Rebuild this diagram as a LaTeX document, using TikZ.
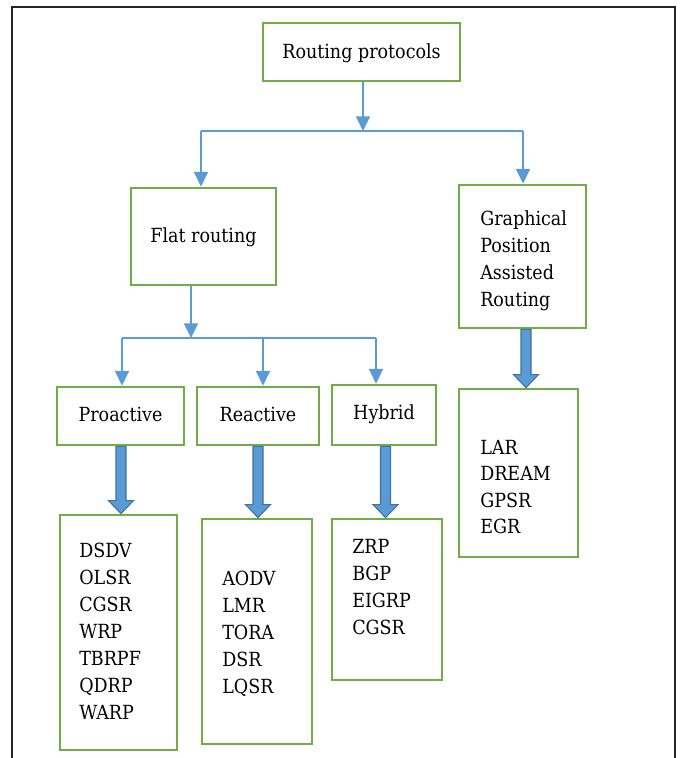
\documentclass[tikz,border=0pt]{standalone}
\usepackage{fontspec}
\setmainfont{DejaVu Serif Condensed}
\usetikzlibrary{fit,calc,arrows.meta}
\definecolor{boxgreen}{RGB}{112,173,71}
\definecolor{linkblue}{RGB}{91,155,213}
\definecolor{fatedge}{RGB}{65,113,156}
% thick block arrow: source node, target node, x position
\newcommand\fatlink[3]{%
  \path (#3,0 |- #1.south) coordinate (ft) (#3,0 |- #2.north) coordinate (fb);
  \path[fat] ($(ft)+(-5,0)$) -- ($(ft)+(5,0)$) -- ($(fb)+(5,-13)$)
    -- ($(fb)+(12.5,-13)$) -- (fb) -- ($(fb)+(-12.5,-13)$)
    -- ($(fb)+(-5,-13)$) -- cycle;}
\begin{document}
\begin{tikzpicture}[x=0.75pt,y=-0.75pt,
  box/.style={draw=boxgreen, line width=2.1pt, fill=white, inner sep=0pt},
  txt/.style={font=\fontsize{14.6}{20}\selectfont, inner sep=0pt},
  item/.style={txt, anchor=base west},
  link/.style={draw=linkblue, line width=1.4pt},
  linkarrow/.style={link, -{Triangle[width=10.5pt,length=11pt]}},
  fat/.style={fill=linkblue, draw=fatedge, line width=0.8pt}
]
\useasboundingbox (0,0) rectangle (680,758);
% page frame
\draw[line width=1.6pt, black!85] (12,758) -- (12,7) -- (675,7) -- (675,758);

% boxes
\node[box, fit={(263,23) (460,81)}] (rp) {};
\node[box, fit={(131,188) (276,285)}] (flat) {};
\node[box, fit={(459,185) (586,328)}] (gpar) {};
\node[box, fit={(57,387) (184,445)}] (pro) {};
\node[box, fit={(197,387) (319,445)}] (rea) {};
\node[box, fit={(332,385) (436,445)}] (hyb) {};
\node[box, fit={(60,515) (177,750)}] (pl) {};
\node[box, fit={(202,519) (312,744)}] (rl) {};
\node[box, fit={(332,519) (442,680)}] (hl) {};
\node[box, fit={(459,389) (578,557)}] (gl) {};

% centred box titles
\node[txt] (rpt) at ($(rp.center)+(0,1)$) {Routing protocols};
\node[txt] (flatt) at ($(flat.center)+(0,1)$) {Flat routing};
\node[txt] (prot) at ($(pro.center)+(0,-2)$) {Proactive};
\node[txt] (reat) at ($(rea.center)+(0,-2)$) {Reactive};
\node[txt] (hybt) at ($(hyb.center)+(0,-1)$) {Hybrid};

% left-aligned box texts
\foreach \t [count=\i] in {Graphical,Position,Assisted,Routing}
  \node[item] (gp\i) at (480,{225+27*(\i-1)}) {\t};
\foreach \t [count=\i] in {DSDV,OLSR,CGSR,WRP,TBRPF,QDRP,WARP}
  \node[item] (pl\i) at (79,{557+27*(\i-1)}) {\t};
\foreach \t [count=\i] in {AODV,LMR,TORA,DSR,LQSR}
  \node[item] (rl\i) at (222,{585+27*(\i-1)}) {\t};
\foreach \t [count=\i] in {ZRP,BGP,EIGRP,CGSR}
  \node[item] (hl\i) at (352,{553+27*(\i-1)}) {\t};
\foreach \t [count=\i] in {LAR,DREAM,GPSR,EGR}
  \node[item] (gl\i) at (480,{454+26.5*(\i-1)}) {\t};

% thin connectors, first level
\coordinate (j1) at (363,131);
\coordinate (j1l) at (201,131);
\coordinate (j1r) at (523,131);
\draw[linkarrow] (rp.south -| j1) -- (j1);
\draw[link] (j1l) -- (j1r);
\draw[linkarrow] (j1l) -- (j1l |- flat.north);
\draw[linkarrow] (j1r) -- (j1r |- gpar.north);

% thin connectors, second level
\coordinate (j2) at (191,338);
\coordinate (j2a) at (122,338);
\coordinate (j2b) at (263,338);
\coordinate (j2c) at (376,338);
\draw[linkarrow] (flat.south -| j2) -- (j2);
\draw[link] (j2a) -- (j2c);
\draw[linkarrow] (j2a) -- (j2a |- pro.north);
\draw[linkarrow] (j2b) -- (j2b |- rea.north);
\draw[linkarrow] (j2c) -- (j2c |- hyb.north);

% block arrows to the protocol lists
\fatlink{pro}{pl}{121}
\fatlink{rea}{rl}{258}
\fatlink{hyb}{hl}{385.5}
\fatlink{gpar}{gl}{526}
\end{tikzpicture}
\end{document}
